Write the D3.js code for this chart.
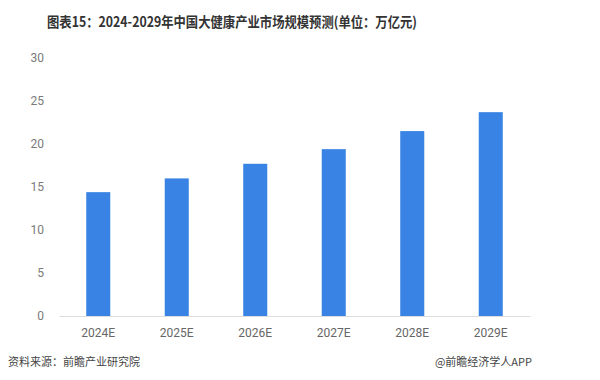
<!DOCTYPE html>
<html>
<head>
    <style>
        body { margin: 0; background: #fff; }
        svg { font-family: "Noto Sans CJK SC", "Liberation Sans", sans-serif; }
        .title { font-weight: bold; fill: #333; font-size: 14px; }
        .axis text { fill: #666; font-size: 12px; font-family: Roboto, "Liberation Sans", sans-serif; }
        .yaxis text { fill: #7a7a7a; }
        .foot { fill: #444; font-size: 11px; }
    </style>
    <script src="https://d3js.org/d3.v7.min.js"></script>
</head>
<body>
    <svg width="600" height="380"></svg>
    <script>
        // 2024-2029 中国大健康产业市场规模预测 (万亿元)
        var years = ["2024E", "2025E", "2026E", "2027E", "2028E", "2029E"];
        var values = [14.4, 16.0, 17.7, 19.4, 21.5, 23.7];
        var yTicks = [0, 5, 10, 15, 20, 25, 30];

        var svg = d3.select("svg");
        var plotLeft = 59, plotRight = 530, plotTop = 58, plotBottom = 316;

        var x = d3.scaleBand().domain(years).range([plotLeft, plotRight])
            .paddingInner(0.694).paddingOuter(0.347);
        var y = d3.scaleLinear().domain([0, 30]).range([plotBottom, plotTop]);

        svg.append("text").attr("class", "title")
            .attr("x", 47).attr("y", 27)
            .attr("textLength", 370).attr("lengthAdjust", "spacingAndGlyphs")
            .text("图表15：2024-2029年中国大健康产业市场规模预测(单位：万亿元)");

        // y axis labels only, no line
        var yAxis = svg.append("g").attr("class", "axis yaxis")
            .attr("transform", "translate(" + 44 + ",0)")
            .call(d3.axisLeft(y).tickValues(yTicks).tickSize(0).tickPadding(0));
        yAxis.select(".domain").remove();

        svg.selectAll(".bar").data(values).enter().append("rect")
            .attr("class", "bar")
            .attr("x", function(d, i){ return x(years[i]); })
            .attr("y", function(d){ return y(d); })
            .attr("width", x.bandwidth())
            .attr("height", function(d){ return y(0) - y(d); })
            .attr("fill", "#3883e3");

        var xAxis = svg.append("g").attr("class", "axis")
            .attr("transform", "translate(0," + plotBottom + ")")
            .call(d3.axisBottom(x).tickSize(0).tickPadding(12));
        xAxis.select(".domain").attr("stroke", "#ddd");

        svg.append("text").attr("class", "foot")
            .attr("x", 8).attr("y", 366)
            .text("资料来源：前瞻产业研究院");
        svg.append("text").attr("class", "foot")
            .attr("x", 532).attr("y", 366).attr("text-anchor", "end")
            .text("@前瞻经济学人APP");
    </script>
</body>
</html>
